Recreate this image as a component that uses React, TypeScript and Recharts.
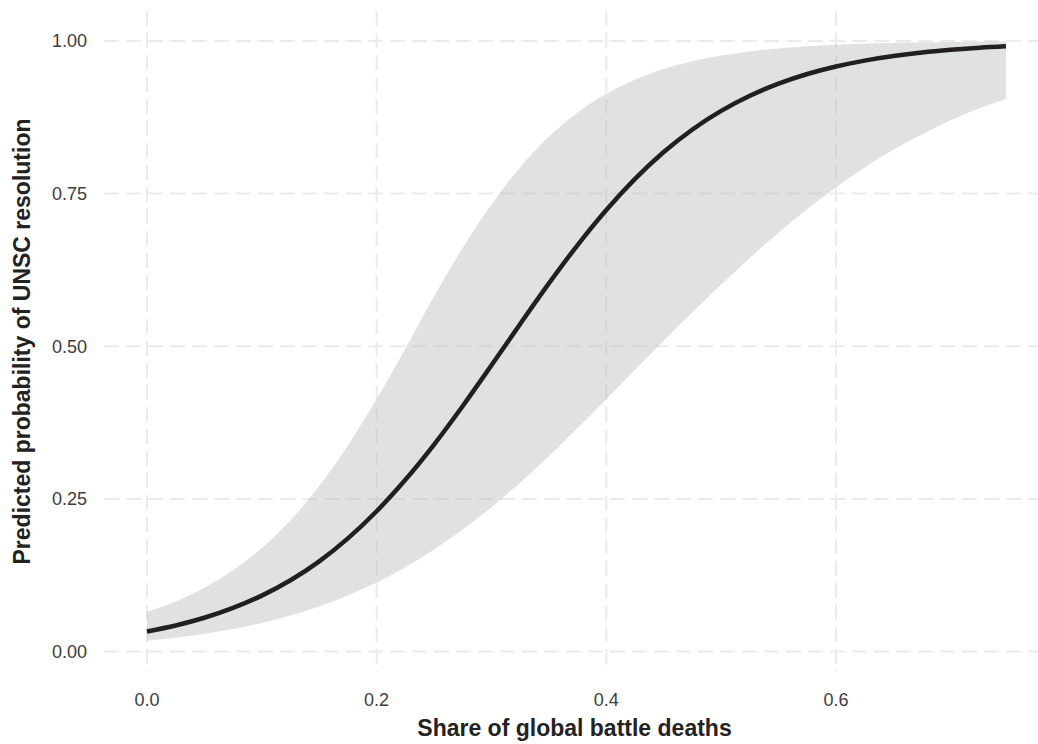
import React from "react"
import {
  Area,
  CartesianGrid,
  ComposedChart,
  Label,
  Line,
  XAxis,
  YAxis,
} from "recharts"

// share of global battle deaths (x) and predicted probability with 95% band
const shares = [
  0, 0.025, 0.05, 0.075, 0.1, 0.125, 0.15, 0.175, 0.2, 0.225, 0.25, 0.275,
  0.3, 0.325, 0.35, 0.375, 0.4, 0.425, 0.45, 0.475, 0.5, 0.525, 0.55, 0.575,
  0.6, 0.625, 0.65, 0.675, 0.7, 0.725, 0.748,
]

const predicted = [
  0.0329, 0.0427, 0.0553, 0.0714, 0.0916, 0.1167, 0.1477, 0.1853, 0.2297,
  0.2812, 0.339, 0.4022, 0.4688, 0.5365, 0.6029, 0.6657, 0.7231, 0.774, 0.818,
  0.855, 0.8854, 0.9102, 0.93, 0.9458, 0.9581, 0.9677, 0.9752, 0.981, 0.9854,
  0.9889, 0.9912,
]

const upper = [
  0.0648, 0.082, 0.1043, 0.133, 0.1694, 0.215, 0.271, 0.3374, 0.4134, 0.496,
  0.5818, 0.661, 0.732, 0.7929, 0.8429, 0.8826, 0.9133, 0.9366, 0.9539, 0.9667,
  0.976, 0.9828, 0.9876, 0.9911, 0.9937, 0.9955, 0.9968, 0.9977, 0.9983,
  0.9988, 0.9991,
]

const lower = [
  0.0175, 0.0225, 0.0289, 0.0369, 0.0469, 0.0591, 0.0739, 0.0918, 0.113,
  0.138, 0.167, 0.1997, 0.2364, 0.2767, 0.32, 0.366, 0.413, 0.4614, 0.509,
  0.5555, 0.601, 0.6447, 0.686, 0.7247, 0.7604, 0.7927, 0.8216, 0.8473, 0.8699,
  0.8896, 0.9045,
]

const xTicks = [0, 0.2, 0.4, 0.6]
const yTicks = [0, 0.25, 0.5, 0.75, 1]
const xDomain: [number, number] = [-0.0374, 0.782]
const yDomain: [number, number] = [-0.0335, 1.049]

const data = shares.map((x, i) => ({
  x,
  p: predicted[i],
  band: [lower[i], upper[i]],
}))

const font = '"Liberation Sans", Arial, Helvetica, sans-serif'

const verticalLines = ({ xAxis, offset }: any) =>
  xTicks.map((t) =>
    xAxis && typeof xAxis.scale === "function"
      ? xAxis.scale(t)
      : offset.left +
        ((t - xDomain[0]) / (xDomain[1] - xDomain[0])) * offset.width
  )

const horizontalLines = ({ yAxis, offset }: any) =>
  yTicks.map((t) =>
    yAxis && typeof yAxis.scale === "function"
      ? yAxis.scale(t)
      : offset.top +
        (1 - (t - yDomain[0]) / (yDomain[1] - yDomain[0])) * offset.height
  )

export default function App() {
  return (
    <div
      style={{
        position: "absolute",
        left: 0,
        top: 0,
        width: 1038,
        height: 744,
        overflow: "hidden",
        background: "#fff",
        fontFamily: font,
      }}
    >
      <ComposedChart
        width={1045}
        height={744}
        data={data}
        margin={{ top: 11, right: 0, bottom: 0, left: 0 }}
      >
        <CartesianGrid
          stroke="#ebebeb"
          strokeWidth={2}
          strokeDasharray="15 7"
          verticalCoordinatesGenerator={verticalLines}
          horizontalCoordinatesGenerator={horizontalLines}
        />
        <XAxis
          type="number"
          dataKey="x"
          domain={xDomain}
          allowDataOverflow
          ticks={xTicks}
          tickFormatter={(v: number) => v.toFixed(1)}
          axisLine={false}
          tickLine={false}
          tickSize={0}
          tickMargin={21}
          height={72}
          tick={{ fill: "#3d3d3d", fontSize: 18, fontFamily: font }}
        >
          <Label
            value="Share of global battle deaths"
            position="insideBottom"
            offset={8}
            style={{
              fill: "#222",
              fontSize: 23,
              fontWeight: 700,
              fontFamily: font,
            }}
          />
        </XAxis>
        <YAxis
          type="number"
          domain={yDomain}
          allowDataOverflow
          ticks={yTicks}
          tickFormatter={(v: number) => v.toFixed(2)}
          axisLine={false}
          tickLine={false}
          tickSize={0}
          tickMargin={17}
          width={104}
          tick={{ fill: "#3d3d3d", fontSize: 18, fontFamily: font }}
        >
          <Label
            value="Predicted probability of UNSC resolution"
            position="insideLeft"
            angle={-90}
            offset={22}
            style={{
              fill: "#222",
              fontSize: 23,
              fontWeight: 700,
              fontFamily: font,
              textAnchor: "middle",
            }}
          />
        </YAxis>
        <Area
          type="monotone"
          dataKey="band"
          stroke="none"
          fill="#babcc0"
          fillOpacity={0.45}
          isAnimationActive={false}
        />
        <Line
          type="monotone"
          dataKey="p"
          stroke="#231f20"
          strokeWidth={4.5}
          strokeLinecap="butt"
          dot={false}
          activeDot={false}
          isAnimationActive={false}
        />
      </ComposedChart>
    </div>
  )
}
